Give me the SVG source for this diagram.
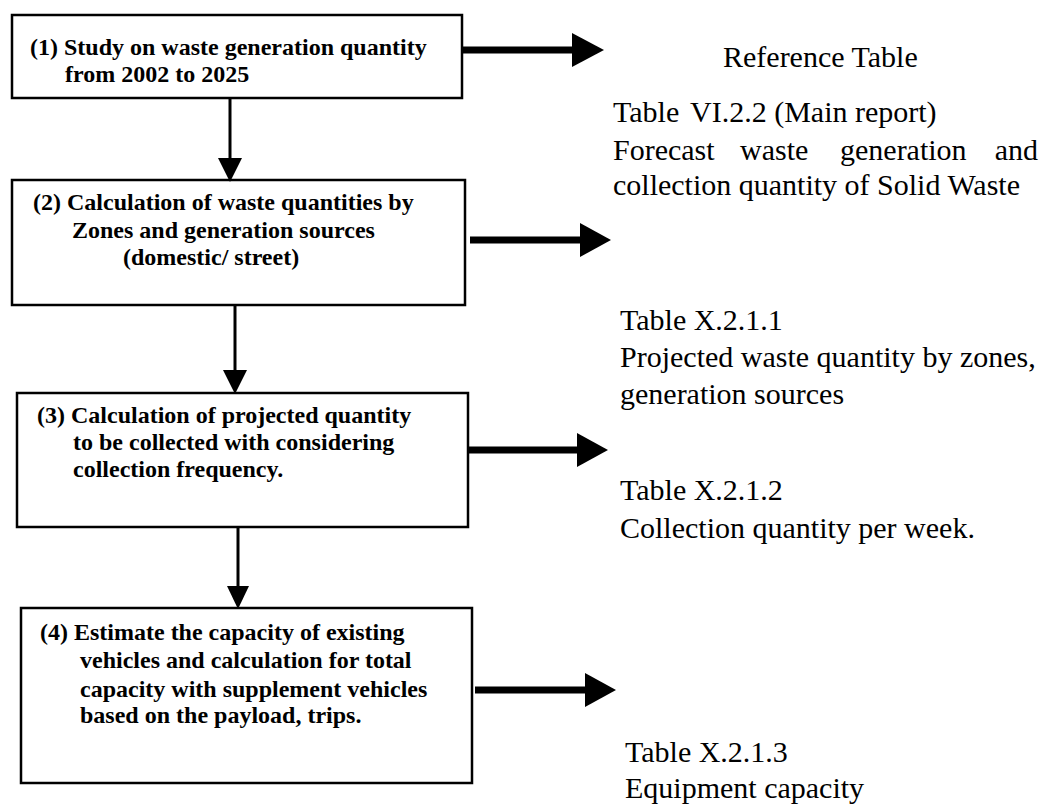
<svg xmlns="http://www.w3.org/2000/svg" width="1062" height="804" viewBox="0 0 1062 804">
<style>
.box{fill:#fff;stroke:#000;stroke-width:2.5}
.bt{font-family:"Liberation Serif","Times New Roman",serif;font-weight:bold;font-size:24px;fill:#000}
.rt{font-family:"Liberation Serif","Times New Roman",serif;font-size:30px;fill:#000}
.v{stroke:#000;stroke-width:3;fill:none}
.h{stroke:#000;stroke-width:7;fill:none}
.head{fill:#000}
</style>
<rect width="1062" height="804" fill="#fff"/>
<g id="node1">
<rect class="box" x="12" y="15" width="450" height="83"/>
<text class="bt" x="30" y="55">(1) Study on waste generation quantity</text>
<text class="bt" x="65" y="82">from 2002 to 2025</text>
</g>
<g id="node2">
<rect class="box" x="12" y="180" width="453" height="125"/>
<text class="bt" x="33" y="210">(2) Calculation of waste quantities by</text>
<text class="bt" x="72" y="238">Zones and generation sources</text>
<text class="bt" x="123" y="265">(domestic/ street)</text>
</g>
<g id="node3">
<rect class="box" x="17" y="393" width="451" height="134"/>
<text class="bt" x="37" y="423">(3) Calculation of projected quantity</text>
<text class="bt" x="73" y="450">to be collected with considering</text>
<text class="bt" x="73" y="477">collection frequency.</text>
</g>
<g id="node4">
<rect class="box" x="21" y="608" width="451" height="175"/>
<text class="bt" x="40" y="640">(4) Estimate the capacity of existing</text>
<text class="bt" x="80" y="668">vehicles and calculation for total</text>
<text class="bt" x="80" y="697">capacity with supplement vehicles</text>
<text class="bt" x="80" y="723">based on the payload, trips.</text>
</g>
<g id="ref-header">
<text class="rt" x="723" y="67">Reference Table</text>
</g>
<g id="ref1">
<text class="rt" y="122"><tspan x="613">Table</tspan><tspan x="690">VI.2.2 (Main report)</tspan></text>
<text class="rt" y="160"><tspan x="613">Forecast</tspan><tspan x="740">waste</tspan><tspan x="840">generation</tspan><tspan x="1038" text-anchor="end">and</tspan></text>
<text class="rt" x="613" y="195">collection quantity of Solid Waste</text>
</g>
<g id="ref2">
<text class="rt" x="620" y="330">Table X.2.1.1</text>
<text class="rt" x="620" y="367">Projected waste quantity by zones,</text>
<text class="rt" x="620" y="404">generation sources</text>
</g>
<g id="ref3">
<text class="rt" x="620" y="500">Table X.2.1.2</text>
<text class="rt" x="620" y="538">Collection quantity per week.</text>
</g>
<g id="ref4">
<text class="rt" x="625" y="762">Table X.2.1.3</text>
<text class="rt" x="625" y="798">Equipment capacity</text>
</g>
<g id="connectors">
<line class="v" x1="230" y1="98" x2="230" y2="160"/>
<polygon class="head" points="218,158 242,158 230,182"/>
<line class="v" x1="235" y1="305" x2="235" y2="372"/>
<polygon class="head" points="223,370 247,370 235,394"/>
<line class="v" x1="238" y1="527" x2="238" y2="588"/>
<polygon class="head" points="227,586 249,586 238,609"/>
<line class="h" x1="463" y1="50" x2="574" y2="50"/>
<polygon class="head" points="572,33 572,67 604,50"/>
<line class="h" x1="470" y1="240" x2="582" y2="240"/>
<polygon class="head" points="580,223 580,257 611,240"/>
<line class="h" x1="468" y1="450" x2="579" y2="450"/>
<polygon class="head" points="577,433 577,467 608,450"/>
<line class="h" x1="475" y1="690" x2="587" y2="690"/>
<polygon class="head" points="585,673 585,707 616,690"/>
</g>
</svg>
